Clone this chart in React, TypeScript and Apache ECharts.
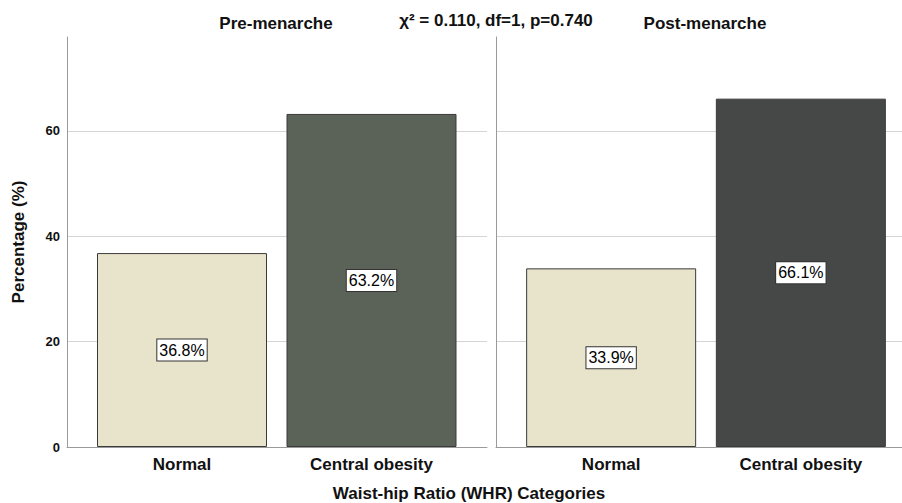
import React, { useEffect, useRef } from "react";
import * as echarts from "echarts";

const categories = ["Normal", "Central obesity"];
const preValues = [36.8, 63.2];
const postValues = [33.9, 66.1];
const panelTitles = ["Pre-menarche", "Post-menarche"];
const statText = "χ² = 0.110, df=1, p=0.740";
const yTicks = [0, 20, 40, 60];
const yAxisTitle = "Percentage (%)";
const xAxisTitle = "Waist-hip Ratio (WHR) Categories";

const FONT = "'Liberation Sans', Arial, sans-serif";
const Y_MAX = 77.8;
const BEIGE = "#e8e4cb";
const PRE_DARK = "#5b6359";
const POST_DARK = "#464847";

export default function App() {
  const ref = useRef<HTMLDivElement>(null);
  useEffect(() => {
    if (!ref.current) return;
    const chart = echarts.init(ref.current, undefined, { renderer: "svg" });
    const top = 37;
    const bottom = 56;
    const axisGrid = (left: number, right: number) => ({ left, right, top, bottom, containLabel: false });
    const barGrid = (left: number, width: number) => ({ left, width, top, bottom, containLabel: false });

    const axisY = (gi: number, showLabels: boolean) => ({
      type: "value",
      gridIndex: gi,
      min: 0,
      max: Y_MAX,
      interval: 20,
      axisLine: { show: true, lineStyle: { color: "#9a9a9a", width: 1 } },
      axisTick: { show: false },
      axisLabel: {
        show: showLabels,
        showMaxLabel: false,
        fontFamily: FONT,
        fontWeight: "bold",
        fontSize: 13,
        color: "#111",
        margin: 7,
        formatter: (v: number) => (yTicks.includes(v) ? String(v) : ""),
      },
      splitLine: { show: true, showMinLine: false, showMaxLine: false, lineStyle: { color: "#d4d4d4", width: 1 } },
    });
    const hiddenY = (gi: number) => ({
      type: "value",
      gridIndex: gi,
      min: 0,
      max: Y_MAX,
      interval: 20,
      show: false,
      splitLine: { show: false },
    });
    const axisX = (gi: number) => ({
      type: "value",
      gridIndex: gi,
      min: 0,
      max: 1,
      axisLine: { show: true, onZero: false, lineStyle: { color: "#9a9a9a", width: 1 } },
      axisTick: { show: false },
      axisLabel: { show: false },
      splitLine: { show: false },
    });
    const catX = (gi: number) => ({
      type: "category",
      gridIndex: gi,
      data: categories,
      axisLine: { show: false },
      axisTick: { show: false },
      axisLabel: { fontFamily: FONT, fontWeight: "bold", fontSize: 17, color: "#111", margin: 9 },
    });
    const barSeries = (xi: number, values: number[], dark: string) => ({
      type: "bar",
      xAxisIndex: xi,
      yAxisIndex: xi,
      barWidth: 170,
      data: values.map((v, i) => ({
        value: v,
        itemStyle: { color: i === 0 ? BEIGE : dark, borderColor: "#3a3a3a", borderWidth: 1 },
      })),
      label: {
        show: true,
        position: "inside",
        formatter: (p: any) => `${p.value.toFixed(1)}%`,
        fontFamily: FONT,
        fontSize: 16,
        color: "#000",
        backgroundColor: "#fff",
        borderColor: "#333",
        borderWidth: 1,
        padding: [3, 2, 2, 2],
      },
    });

    chart.setOption({
      animation: false,
      backgroundColor: "#fff",
      grid: [axisGrid(67, 415), barGrid(87.25, 379), axisGrid(496, 0), barGrid(516.3, 379.4)],
      xAxis: [axisX(0), catX(1), axisX(2), catX(3)],
      yAxis: [axisY(0, true), hiddenY(1), axisY(2, false), hiddenY(3)],
      series: [
        { type: "line", xAxisIndex: 0, yAxisIndex: 0, data: [], silent: true },
        barSeries(1, preValues, PRE_DARK),
        { type: "line", xAxisIndex: 2, yAxisIndex: 2, data: [], silent: true },
        barSeries(3, postValues, POST_DARK),
      ],
      graphic: [
        {
          type: "text",
          x: 276,
          y: 23,
          style: { text: panelTitles[0], font: `bold 17px ${FONT}`, fill: "#111", align: "center", verticalAlign: "middle" },
        },
        {
          type: "text",
          x: 496,
          y: 20,
          style: { text: statText, font: `bold 17px ${FONT}`, fill: "#111", align: "center", verticalAlign: "middle" },
        },
        {
          type: "text",
          x: 705,
          y: 23,
          style: { text: panelTitles[1], font: `bold 17px ${FONT}`, fill: "#111", align: "center", verticalAlign: "middle" },
        },
        {
          type: "text",
          x: 18,
          y: 242,
          rotation: Math.PI / 2,
          style: { text: yAxisTitle, font: `bold 17px ${FONT}`, fill: "#111", align: "center", verticalAlign: "middle" },
        },
        {
          type: "text",
          x: 469,
          y: 493,
          style: { text: xAxisTitle, font: `bold 17px ${FONT}`, fill: "#111", align: "center", verticalAlign: "middle" },
        },
      ],
    });
    return () => chart.dispose();
  }, []);
  return <div ref={ref} style={{ width: 902, height: 503, position: "fixed", left: 0, top: 0 }} />;
}
